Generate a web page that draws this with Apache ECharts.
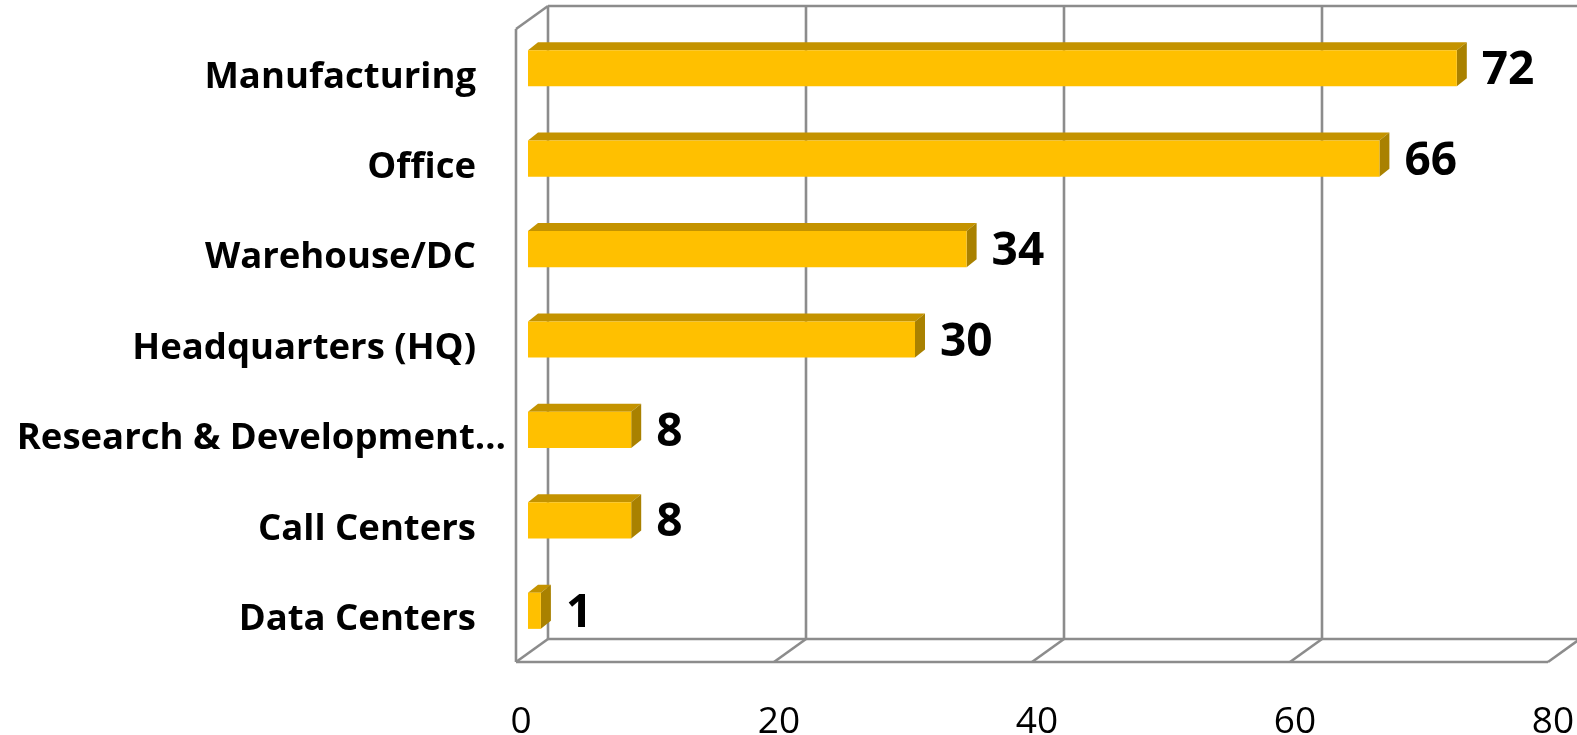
<!DOCTYPE html>
<html>
<head>
<meta charset="utf-8">
<script src="https://cdn.jsdelivr.net/npm/echarts@6/dist/echarts.min.js"></script>
<style>
html,body{margin:0;padding:0;background:#fff;}
#c{width:1577px;height:735px;}
</style>
</head>
<body>
<div id="c"></div>
<script>
const categories = ['Manufacturing', 'Office', 'Warehouse/DC', 'Headquarters (HQ)', 'Research & Development\u2026', 'Call Centers', 'Data Centers'];
const values = [72, 66, 34, 30, 8, 8, 1];
const xTicks = [0, 20, 40, 60, 80];
const longLabel = 'Research & Development\u2026';

const chart = echarts.init(document.getElementById('c'), null, {renderer: 'canvas'});

// oblique depth offsets (layout only)
const BACK = [20, -15];
const FRONT = [-12, 8];
const BAR_D = [10, -8];
const FRAME_COLOR = '#8c8c8c';

function frameRender(params, api) {
  const cs = params.coordSys;
  const top = cs.y, bottom = cs.y + cs.height;
  const children = [];
  const line = (x1, y1, x2, y2) => children.push({
    type: 'line', shape: {x1, y1, x2, y2},
    style: {stroke: FRAME_COLOR, lineWidth: 2.6}
  });
  const X = v => api.coord([v, 0])[0];
  const x0 = X(xTicks[0]), xN = X(xTicks[xTicks.length - 1]);
  xTicks.forEach(v => line(X(v) + BACK[0], top + BACK[1], X(v) + BACK[0], bottom + BACK[1]));
  line(x0 + BACK[0], top + BACK[1], xN + BACK[0] + 5, top + BACK[1]);
  line(x0 + BACK[0], bottom + BACK[1], xN + BACK[0], bottom + BACK[1]);
  line(x0 + FRONT[0], bottom + FRONT[1], xN + FRONT[0], bottom + FRONT[1]);
  xTicks.forEach(v => line(X(v) + FRONT[0], bottom + FRONT[1], X(v) + BACK[0], bottom + BACK[1]));
  line(x0 + FRONT[0], top + FRONT[1], x0 + FRONT[0], bottom + FRONT[1]);
  line(x0 + FRONT[0], top + FRONT[1], x0 + BACK[0], top + BACK[1]);
  return {type: 'group', children};
}

function barRender(params, api) {
  const idx = api.value(0);
  const val = api.value(1);
  const p0 = api.coord([0, idx]);
  const p1 = api.coord([val, idx]);
  const h = api.size([0, 1])[1] * 0.4;
  const cy = p0[1] + 2;
  const xa = p0[0], xb = p1[0];
  const yt = cy - h / 2, yb = cy + h / 2;
  const dx = BAR_D[0], dy = BAR_D[1];
  return {
    type: 'group',
    children: [
      {type: 'polygon', shape: {points: [[xa, yt], [xb, yt], [xb + dx, yt + dy], [xa + dx, yt + dy]]}, style: {fill: '#c49300'}},
      {type: 'polygon', shape: {points: [[xb, yt], [xb + dx, yt + dy], [xb + dx, yb + dy], [xb, yb]]}, style: {fill: '#a98100'}},
      {type: 'rect', shape: {x: xa, y: yt, width: xb - xa, height: h}, style: {fill: '#ffc000'}},
      {type: 'text', x: xb + 25, y: cy + 3, style: {
        text: String(val), fill: '#000', font: 'bold 46px "Open Sans"',
        textAlign: 'left', textVerticalAlign: 'middle'
      }}
    ]
  };
}

const catLabel = {
  color: '#000', fontFamily: 'Open Sans', fontWeight: 'bold', fontSize: 36.5,
  verticalAlign: 'top', lineHeight: 22
};

const option = {
  animation: false,
  backgroundColor: '#fff',
  grid: {left: 528, right: 17, top: 21, bottom: 81, containLabel: false, outerBoundsMode: 'none'},
  xAxis: {
    type: 'value', min: 0, max: 80, interval: 20,
    axisLine: {show: false}, axisTick: {show: false}, splitLine: {show: false},
    axisLabel: {
      margin: 50, color: '#000', fontFamily: 'Open Sans', fontSize: 37,
      padding: [0, 14, 0, 0]
    }
  },
  yAxis: [{
    type: 'category', data: categories, inverse: true,
    axisLine: {show: false}, axisTick: {show: false}, splitLine: {show: false},
    axisLabel: Object.assign({margin: 52, formatter: v => v === longLabel ? '' : v}, catLabel)
  }, {
    type: 'category', data: categories, inverse: true, position: 'left', offset: 0,
    axisLine: {show: false}, axisTick: {show: false}, splitLine: {show: false},
    axisLabel: Object.assign({margin: 22, formatter: v => v === longLabel ? v : ''}, catLabel)
  }],
  series: [{
    type: 'custom', renderItem: frameRender, data: [[0, 0]], clip: false, z: 1,
    encode: {x: 0, y: 1}, silent: true
  }, {
    type: 'custom', renderItem: barRender, clip: false, z: 2,
    data: categories.map((c, i) => [i, values[i]]),
    encode: {y: 0, x: 1}
  }]
};
chart.setOption(option);
</script>
</body>
</html>
